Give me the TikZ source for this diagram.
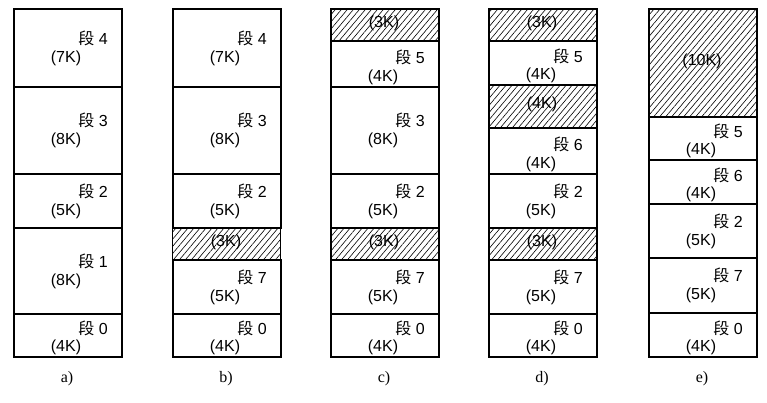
\documentclass[tikz,border=0pt]{standalone}
\usepackage{fontspec}
\setmainfont{Liberation Serif}
\newfontfamily\sansf{Liberation Sans}
\newfontfamily\cjk{Noto Sans CJK SC}
\usetikzlibrary{patterns.meta}
\tikzset{
  blk/.style={draw, line width=1.5pt, minimum width=108pt, inner sep=0pt, anchor=north west},
  hatch/.style={blk, pattern={Lines[angle=50,distance=4.6pt,line width=0.6pt]}},
  segtxt/.style={font=\fontsize{16}{16}\selectfont\sansf, inner sep=0pt},
  caption/.style={font=\fontsize{16}{16}\selectfont, inner sep=0pt}
}
\newcommand\freeblk[5]{%
  \node[hatch, minimum height={#4-#3}] (#1) at (#2,#3) {};
  \node[segtxt] (#1k) at ({#2+54},{(#3+#4)/2-1}) {(#5K)};
}
\newcommand\usedblk[6]{%
  \node[blk, minimum height={#4-#3}] (#1) at (#2,#3) {};
  \node[segtxt] (#1n) at ({#2+80},{(#3+#4)/2-9}) {{\cjk 段} #5};
  \node[segtxt] (#1k) at ({#2+53},{(#3+#4)/2+11}) {(#6K)};
}
\newcommand\smallblk[6]{%
  \node[blk, minimum height={#4-#3}] (#1) at (#2,#3) {};
  \node[segtxt] (#1n) at ({#2+80},{(#3+#4)/2-6}) {{\cjk 段} #5};
  \node[segtxt] (#1k) at ({#2+53},{#4-9}) {(#6K)};
}
\begin{document}
\begin{tikzpicture}[x=1pt,y=-1pt]
\useasboundingbox (0,0) rectangle (767,402);
% a)
\usedblk{a4}{13}{8}{86}{4}{7}
\usedblk{a3}{13}{86}{173}{3}{8}
\usedblk{a2}{13}{173}{227}{2}{5}
\usedblk{a1}{13}{227}{313}{1}{8}
\smallblk{a0}{13}{313}{356}{0}{4}
% b)
\usedblk{b4}{172}{8}{86}{4}{7}
\usedblk{b3}{172}{86}{173}{3}{8}
\usedblk{b2}{172}{173}{227}{2}{5}
\freeblk{bh}{172}{227}{259}{3}
\usedblk{b7}{172}{259}{313}{7}{5}
\smallblk{b0}{172}{313}{356}{0}{4}
% c)
\freeblk{ch1}{330}{8}{40}{3}
\smallblk{c5}{330}{40}{86}{5}{4}
\usedblk{c3}{330}{86}{173}{3}{8}
\usedblk{c2}{330}{173}{227}{2}{5}
\freeblk{ch2}{330}{227}{259}{3}
\usedblk{c7}{330}{259}{313}{7}{5}
\smallblk{c0}{330}{313}{356}{0}{4}
% d)
\freeblk{dh1}{488}{8}{40}{3}
\smallblk{d5}{488}{40}{84}{5}{4}
\freeblk{dh2}{488}{84}{127}{4}
\smallblk{d6}{488}{127}{173}{6}{4}
\usedblk{d2}{488}{173}{227}{2}{5}
\freeblk{dh3}{488}{227}{259}{3}
\usedblk{d7}{488}{259}{313}{7}{5}
\smallblk{d0}{488}{313}{356}{0}{4}
% e)
\freeblk{eh}{648}{8}{116}{10}
\smallblk{e5}{648}{116}{159}{5}{4}
\smallblk{e6}{648}{159}{203}{6}{4}
\usedblk{e2}{648}{203}{257}{2}{5}
\usedblk{e7}{648}{257}{312}{7}{5}
\smallblk{e0}{648}{312}{356}{0}{4}
% captions
\node[caption] (capa) at (67,379) {a)};
\node[caption] (capb) at (226,379) {b)};
\node[caption] (capc) at (384,379) {c)};
\node[caption] (capd) at (542,379) {d)};
\node[caption] (cape) at (702,379) {e)};
\end{tikzpicture}
\end{document}
